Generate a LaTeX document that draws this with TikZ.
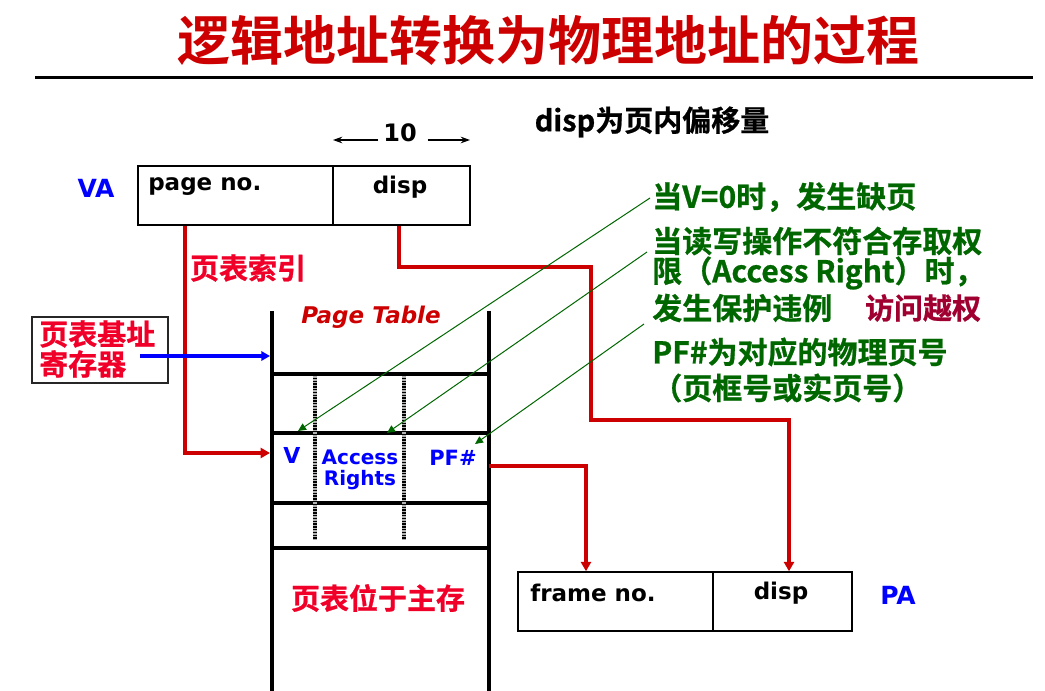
\documentclass[tikz,border=0pt]{standalone}
\usepackage{fontspec}
\setmainfont{DejaVu Sans}
\newfontfamily\cjk{Noto Sans CJK SC}[UprightFont={* Bold}, FakeBold=0.8]
\newfontfamily\cjkhead{Noto Sans CJK SC}[UprightFont={* Bold}]
\usetikzlibrary{arrows.meta,fit}

\definecolor{titlered}{RGB}{204,0,0}
\definecolor{linkred}{RGB}{204,0,0}
\definecolor{labelred}{RGB}{240,0,40}
\definecolor{notegreen}{RGB}{0,102,0}
\definecolor{alertmaroon}{RGB}{160,0,48}
\definecolor{ptblue}{RGB}{0,0,255}

% font size given in pixels of the 1045 x 691 canvas (1px = 0.75pt)
\newcommand\pxsize[1]{\fontsize{\dimexpr#1pt*3/4\relax}{\dimexpr#1pt*9/10\relax}\selectfont}

\tikzset{
  field/.style={draw, line width=1.1pt, inner sep=0},
  fieldtext/.style={font=\bfseries\pxsize{23}, inner sep=0},
  tag/.style={text=ptblue, font=\bfseries\pxsize{25}, inner sep=0},
  cell/.style={text=ptblue, font=\bfseries\pxsize{20}, inner sep=0, align=center},
  redlabel/.style={text=labelred, font=\cjk\pxsize{29}, inner sep=0},
  note/.style={text=notegreen, font=\cjk\pxsize{30}, inner sep=0, anchor=west},
  redlink/.style={draw=linkred, line width=2.8pt, -{Triangle[length=7pt,width=7.5pt]}},
  bluelink/.style={draw=ptblue, line width=2.5pt, -{Triangle[length=6.5pt,width=7pt]}},
  notelink/.style={draw=notegreen, line width=0.75pt, -{Triangle[length=6pt,width=5.5pt]}},
  dimarrow/.style={draw, line width=0.9pt, -{Stealth[length=7pt,width=5pt]}},
  tableline/.style={line width=3pt},
}

\begin{document}
\begin{tikzpicture}[x=0.75pt, y=-0.75pt]
\path[use as bounding box] (0,0) rectangle (1045,691);

% heading and rule
\node[text=titlered, font=\cjkhead\pxsize{53}, inner sep=0] (title) at (548,40) {逻辑地址转换为物理地址的过程};
\draw[line width=2.25pt] (35,78) -- (1033,78);

\node[font=\cjk\pxsize{29}, inner sep=0] (dispnote) at (652,122) {disp为页内偏移量};

% virtual address
\node[field, fit={(138,166) (333,225)}] (vapn) {};
\node[field, fit={(333,166) (470,225)}] (vadisp) {};
\node[fieldtext, anchor=west] (vapntext) at (148,187) {page no.};
\node[fieldtext] (vadisptext) at (400,187) {disp};
\node[tag] (va) at (96,188) {VA};

% width of the displacement field
\node[font=\bfseries\pxsize{24}, inner sep=2pt] (ten) at (400,133) {10};
\coordinate (wl) at (333,140);
\coordinate (wr) at (470,140);
\draw[dimarrow] (ten.west |- wl) ++(-2,0) -- (wl);
\draw[dimarrow] (ten.east |- wr) ++(8,0) -- (wr);

% page table base register
\node[draw=black!85, line width=1pt, fit={(32,317) (168,383)}, inner sep=0] (pbr) {};
\node[redlabel, align=left, anchor=west, font=\cjk\fontsize{21.75pt}{22.5pt}\selectfont] (pbrtext) at (39,349) {页表基址\\寄存器};

% page table
\node[text=titlered, font=\bfseries\itshape\pxsize{23}, inner sep=0] (pttitle) at (371,317) {Page Table};
\draw[tableline] (272,311) -- (272,691);
\draw[tableline] (489,311) -- (489,691);
\foreach \y in {374,433,503,548}
  \draw[tableline] (272,\y) -- (489,\y);
\foreach \x in {315,404} {
  \draw[line width=3.4pt, black!30] (\x,375) -- (\x,540);
  \draw[line width=3.4pt, dash pattern=on 1.1pt off 1pt] (\x,375) -- (\x,540);
}
\node[cell, font=\bfseries\pxsize{22}] (vcell) at (292,455) {V};
\node[cell] (arcell) at (360,470) {Access\\[-2pt]Rights};
\node[cell, font=\bfseries\pxsize{21}] (pfcell) at (453,458) {PF\#};
\node[redlabel] (inmem) at (378,598) {页表位于主存};

\coordinate (ptbase) at (270,356);
\coordinate (ptrow) at (270,453);
\coordinate (pfout) at (489,466);

% physical address
\node[field, fit={(518,572) (713,631)}] (pafn) {};
\node[field, fit={(713,572) (852,631)}] (padisp) {};
\node[fieldtext, anchor=west] (pafntext) at (530,593) {frame no.};
\node[fieldtext] (padisptext) at (781,593) {disp};
\node[tag] (pa) at (898,595) {PA};

% translation paths
\node[redlabel] (index) at (248,268) {页表索引};
\coordinate (idxbend) at (185,453);
\draw[redlink] (vapn.south -| idxbend) -- (idxbend) -- (ptrow);

\draw[bluelink] (140,356) -- (ptbase);

\coordinate (frbend) at (586,466);
\draw[redlink] (pfout) -- (frbend) -- (frbend |- pafn.north);

\coordinate (db1) at (399,267);
\coordinate (db2) at (591,267);
\coordinate (db3) at (591,420);
\coordinate (db4) at (789,420);
\draw[redlink] (vadisp.south -| db1) -- (db1) -- (db2) -- (db3) -- (db4) -- (db4 |- padisp.north);

% explanations
\node[note] (n1) at (652,197) {当V=0时，发生缺页};
\node[note] (n2a) at (652,241) {当读写操作不符合存取权};
\node[note] (n2b) at (652,273) {限（Access Right）时，};
\node[note] (n2c) at (652,308) {发生保护违例};
\node[text=alertmaroon, font=\cjk\pxsize{29}, inner sep=0] (alert) at (923,308) {访问越权};
\node[note] (n3a) at (652,352) {PF\#为对应的物理页号};
\node[note] (n3b) at (652,388) {（页框号或实页号）};

\coordinate (vtip) at (298,431);
\coordinate (artip) at (387,433);
\coordinate (pftip) at (475,444);
\draw[notelink] ([shift={(-2,1)}]n1.west) -- (vtip);
\draw[notelink] ([shift={(-5,11)}]n2a.west) -- (artip);
\draw[notelink] ([shift={(-8,-28)}]n3a.west) -- (pftip);
\end{tikzpicture}
\end{document}
